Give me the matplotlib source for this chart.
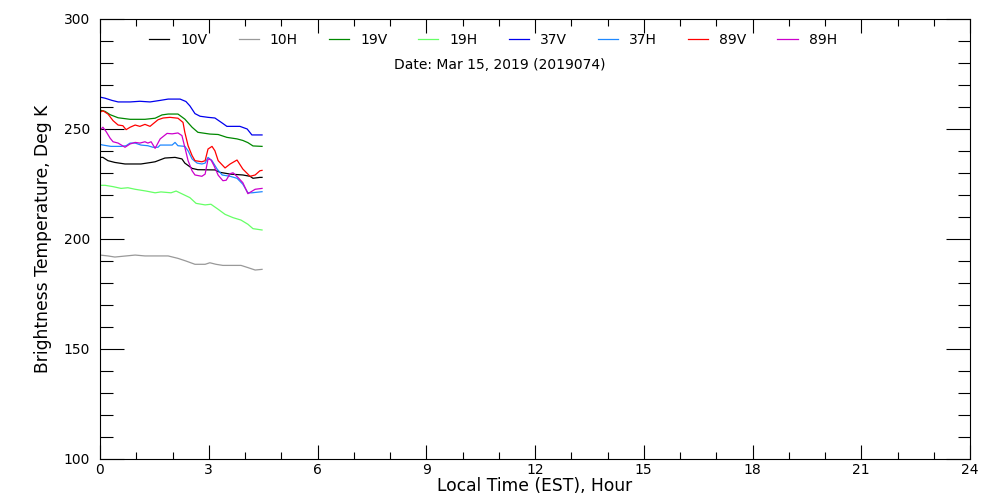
import matplotlib
matplotlib.use("Agg")
import matplotlib.pyplot as plt
from matplotlib.ticker import MultipleLocator

plt.rcParams['font.family'] = ['DejaVu Sans']

labels = ["10V", "10H", "19V", "19H", "37V", "37H", "89V", "89H"]
colors = ["#000000", "#999999", "#008800", "#66ff66", "#0000ee", "#1e88ff", "#ff0000", "#cc00cc"]

t_10v = [0, 0.08, 0.22, 0.41, 0.69, 0.86, 1.13, 1.41, 1.52, 1.79, 2.07, 2.26, 2.34, 2.54, 2.70, 3.17, 3.31, 3.59, 3.94, 4.14, 4.22, 4.41, 4.47]
v_10v = [237.1, 237.1, 235.6, 234.8, 234.1, 234.1, 234.1, 234.8, 235.1, 236.8, 237.1, 236.4, 234.5, 232.1, 231.5, 231.4, 230.3, 229.5, 229.1, 228.5, 227.6, 228.0, 228.0]

t_10h = [0, 0.22, 0.41, 0.72, 0.97, 1.24, 1.88, 2.15, 2.37, 2.62, 2.90, 3.03, 3.20, 3.39, 3.89, 4.08, 4.28, 4.47]
v_10h = [192.7, 192.3, 191.8, 192.3, 192.7, 192.3, 192.3, 191.2, 190.0, 188.5, 188.5, 189.2, 188.5, 188.0, 188.0, 187.0, 185.9, 186.2]

t_19v = [0, 0.14, 0.28, 0.50, 0.83, 1.24, 1.52, 1.71, 1.88, 2.15, 2.34, 2.54, 2.70, 3.03, 3.26, 3.50, 3.78, 3.94, 4.08, 4.22, 4.47]
v_19v = [258.6, 258.0, 256.5, 255.1, 254.4, 254.4, 254.9, 256.4, 256.8, 256.8, 254.5, 250.8, 248.5, 247.7, 247.5, 246.2, 245.5, 244.8, 243.8, 242.3, 242.1]

t_19h = [0, 0.14, 0.36, 0.58, 0.77, 0.97, 1.27, 1.52, 1.68, 1.96, 2.10, 2.29, 2.48, 2.65, 2.90, 3.06, 3.26, 3.45, 3.67, 3.89, 4.08, 4.22, 4.47]
v_19h = [224.4, 224.4, 223.8, 223.0, 223.3, 222.6, 221.8, 221.0, 221.4, 221.0, 221.8, 220.3, 218.8, 216.2, 215.5, 215.8, 213.5, 211.2, 209.7, 208.6, 206.7, 204.7, 204.1]

t_37v = [0, 0.14, 0.33, 0.50, 0.83, 1.10, 1.38, 1.66, 1.88, 2.21, 2.37, 2.48, 2.62, 2.76, 2.98, 3.17, 3.39, 3.50, 3.86, 4.06, 4.19, 4.47]
v_37v = [264.5, 264.0, 263.0, 262.3, 262.3, 262.6, 262.3, 263.0, 263.6, 263.6, 262.5, 260.5, 257.0, 255.8, 255.3, 255.0, 252.5, 251.2, 251.2, 250.0, 247.3, 247.3]

t_37h = [0, 0.08, 0.30, 0.58, 0.72, 0.83, 0.97, 1.13, 1.32, 1.46, 1.60, 1.66, 1.99, 2.07, 2.15, 2.34, 2.43, 2.54, 2.68, 2.81, 2.90, 2.98, 3.09, 3.23, 3.37, 3.59, 3.78, 3.94, 4.08, 4.19, 4.47]
v_37h = [243.0, 242.7, 242.1, 242.1, 242.4, 243.6, 243.6, 242.7, 242.4, 241.7, 241.7, 242.7, 242.7, 243.9, 242.4, 242.1, 240.1, 236.4, 234.5, 234.1, 234.5, 237.1, 235.6, 231.8, 229.1, 228.5, 227.6, 224.9, 221.0, 221.0, 221.5]

t_89v = [0, 0.08, 0.22, 0.36, 0.50, 0.63, 0.72, 0.83, 0.97, 1.10, 1.24, 1.38, 1.46, 1.60, 1.74, 1.93, 2.15, 2.29, 2.34, 2.43, 2.54, 2.62, 2.81, 2.90, 2.98, 3.09, 3.17, 3.26, 3.45, 3.59, 3.78, 3.94, 4.14, 4.28, 4.41, 4.47]
v_89v = [257.6, 258.3, 256.8, 253.8, 251.8, 251.5, 249.7, 250.8, 251.8, 251.2, 252.1, 251.2, 252.3, 254.2, 255.0, 255.3, 254.9, 253.0, 248.5, 242.4, 237.9, 235.6, 235.1, 235.6, 240.9, 242.1, 240.1, 235.6, 232.3, 234.1, 235.9, 231.8, 228.5, 229.1, 231.0, 231.2]

t_89h = [0, 0.08, 0.17, 0.28, 0.36, 0.50, 0.69, 0.83, 0.97, 1.10, 1.24, 1.32, 1.41, 1.52, 1.66, 1.85, 1.99, 2.15, 2.26, 2.34, 2.43, 2.54, 2.62, 2.81, 2.90, 2.98, 3.06, 3.14, 3.26, 3.39, 3.48, 3.59, 3.67, 3.81, 3.94, 4.08, 4.28, 4.47]
v_89h = [249.5, 250.8, 248.8, 245.8, 244.2, 243.6, 241.7, 243.2, 243.9, 243.6, 244.2, 243.6, 244.2, 241.2, 245.5, 248.0, 247.8, 248.2, 247.0, 241.7, 235.6, 231.0, 229.1, 228.5, 229.5, 236.4, 236.0, 233.5, 229.0, 226.5, 226.7, 229.7, 230.1, 227.9, 225.6, 220.6, 222.6, 223.0]

series_t = [t_10v, t_10h, t_19v, t_19h, t_37v, t_37h, t_89v, t_89h]
series_v = [v_10v, v_10h, v_19v, v_19h, v_37v, v_37h, v_89v, v_89h]

date_text = "Date: Mar 15, 2019 (2019074)"
x_ticks = [0, 3, 6, 9, 12, 15, 18, 21, 24]
y_ticks = [100, 150, 200, 250, 300]

fig = plt.figure(figsize=(10, 5), dpi=100)
ax = fig.add_axes([0.100, 1 - 459 / 500, 0.870, 440 / 500])

for t, v, lab, c in zip(series_t, series_v, labels, colors):
    ax.plot(t, v, color=c, lw=0.9, label=lab)

ax.set_xlim(0, 24)
ax.set_ylim(100, 300)
ax.set_xticks(x_ticks)
ax.set_yticks(y_ticks)
ax.xaxis.set_minor_locator(MultipleLocator(1))
ax.yaxis.set_minor_locator(MultipleLocator(10))
ax.tick_params(which='both', direction='in', top=True, right=True, width=0.8, labelsize=10)
ax.tick_params(axis='x', which='major', length=10, pad=3)
ax.tick_params(axis='x', which='minor', length=5)
ax.tick_params(axis='y', which='major', length=17, pad=7)
ax.tick_params(axis='y', which='minor', length=9)
for s in ax.spines.values():
    s.set_linewidth(0.8)

ax.set_xlabel("Local Time (EST), Hour", fontsize=12.3)
ax.set_ylabel("Brightness Temperature, Deg K", fontsize=12.3)
ax.xaxis.set_label_coords(0.5, -0.041)
ax.yaxis.set_label_coords(-0.055, 0.5)

leg = fig.legend(loc='center', bbox_to_anchor=(0.493, 1 - 39.5 / 500), ncol=8, frameon=False,
                 fontsize=10, handlelength=1.45, handletextpad=0.8, columnspacing=2.23,
                 borderpad=0, borderaxespad=0)
fig.text(0.500, 1 - 65 / 500, date_text, ha='center', va='center', fontsize=10)

fig.savefig("out.png", dpi=100)
